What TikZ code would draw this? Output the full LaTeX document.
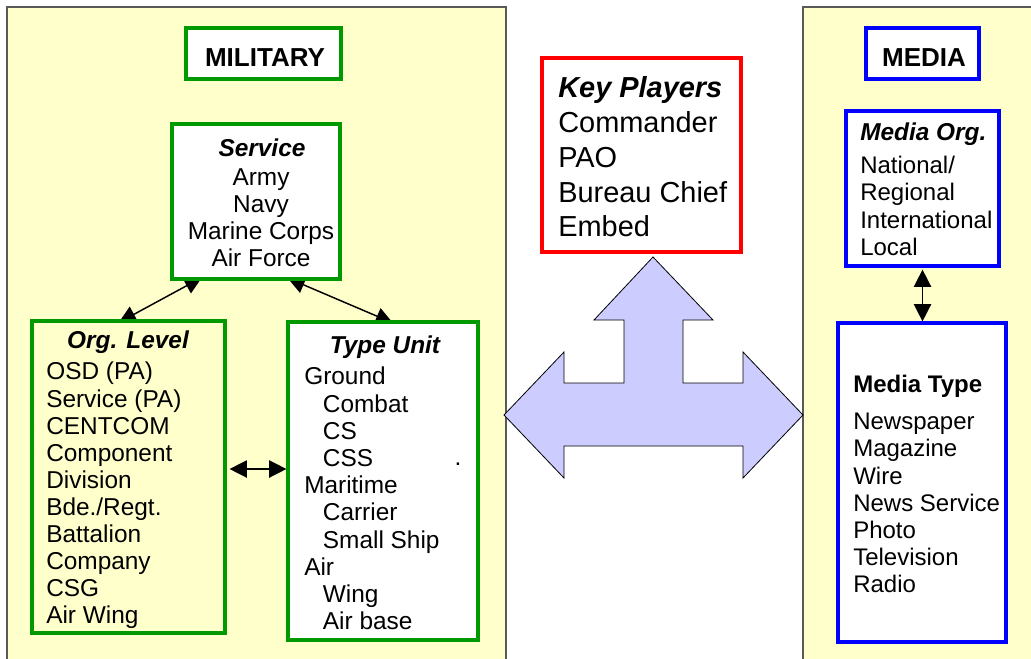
\documentclass[tikz,border=0pt]{standalone}
\usepackage{fontspec}
\setmainfont{Liberation Sans}
\usetikzlibrary{arrows.meta,fit,calc,backgrounds}

\definecolor{panelyellow}{HTML}{FFFFCC}
\definecolor{milgreen}{HTML}{009900}
\definecolor{medblue}{HTML}{0000FF}
\definecolor{keyred}{HTML}{FF0000}
\definecolor{arrowlilac}{HTML}{CCCCFF}

\tikzset{
  panel/.style={draw=black!65, line width=0.9pt, fill=panelyellow},
  milbox/.style={draw=milgreen, line width=2.4pt, inner sep=0pt},
  medbox/.style={draw=medblue, line width=2.4pt, inner sep=0pt},
  keybox/.style={draw=keyred, line width=2.4pt, inner sep=0pt},
  boxtext/.style={inner sep=0pt, align=left, font=\fontsize{18.3}{20.3}\selectfont},
  boxtitle/.style={inner sep=0pt, anchor=base, font=\fontsize{18.3}{20.3}\selectfont\bfseries\itshape},
  headtext/.style={inner sep=0pt, anchor=base, font=\fontsize{19.5}{22}\selectfont\bfseries},
  link/.style={{Triangle[length=13pt,width=13pt]}-{Triangle[length=13pt,width=13pt]}, line width=1.1pt},
  tucked/.style={shorten <=-5pt, shorten >=-5pt},
}

\begin{document}
\begin{tikzpicture}[x=0.75pt,y=-0.75pt]

    \useasboundingbox (0,0) rectangle (1031,658);
    \clip (0,0) rectangle (1031,658);

    % Military side
    \node[milbox, fill=white, fit={(186,28) (341,79)}] (milhead) {};
    \node[headtext] at (265,66) {MILITARY};

    \node[milbox, fill=white, fit={(172,124) (340,279)}] (serv) {};
    \node[boxtitle] at (262,156) {Service};
    \node[boxtext, align=center, anchor=north] at (261,168)
        {Army\\Navy\\Marine Corps\\Air Force};

    \node[milbox, fill=panelyellow, fit={(32,321) (225,633)}] (orglvl) {};
    \node[boxtitle] at (128,348) {Org. Level};
    \node[boxtext, anchor=north west] at (46,362)
        {OSD (PA)\\Service (PA)\\CENTCOM\\Component\\Division\\Bde./Regt.\\Battalion\\Company\\CSG\\Air Wing};

    \node[milbox, fill=white, fit={(288,322) (478,640)}] (typeunit) {};
    \node[boxtitle] at (385,353) {Type Unit};
    \node[boxtext, anchor=north west, font=\fontsize{18.3}{20.4}\selectfont] at (304,367)
        {Ground\\\hspace*{14pt}Combat\\\hspace*{14pt}CS\\\hspace*{14pt}CSS\\Maritime\\\hspace*{14pt}Carrier\\\hspace*{14pt}Small Ship\\Air\\\hspace*{14pt}Wing\\\hspace*{14pt}Air base};
    \node[boxtext, anchor=base] (tudot) at (458,465) {.};

    % Key players
    \node[keybox, fill=white, fit={(542,58) (741,252)}] (keyplay) {};
    \node[boxtext, anchor=north west, font=\fontsize{21.7}{26.2}\selectfont] at (558,76)
        {\textbf{\textit{Key Players}}\\Commander\\PAO\\Bureau Chief\\Embed};

    % Three way arrow
    \filldraw[fill=arrowlilac, draw=black, line width=0.6pt]
        (653,257) -- (713,320) -- (683,320) -- (683,383) -- (743,383) -- (743,352)
        -- (803,415) -- (743,478) -- (743,446) -- (564,446) -- (564,478) -- (504,415)
        -- (564,352) -- (564,383) -- (624,383) -- (624,320) -- (594,320) -- cycle;

    % Media side
    \node[medbox, fill=white, fit={(866,28) (979,79)}] (medhead) {};
    \node[headtext] at (924,66) {MEDIA};

    \node[medbox, fill=white, fit={(846,111) (999,266)}] (medorg) {};
    \node[boxtitle, anchor=base west] at (860,140) {Media Org.};
    \node[boxtext, anchor=north west, font=\fontsize{18}{20.5}\selectfont] at (860,156)
        {National/\\Regional\\International\\Local};

    \node[medbox, fill=white, fit={(838,323) (1006,642)}] (medtype) {};
    \node[headtext, anchor=base west, font=\fontsize{18}{20.5}\selectfont\bfseries] at (853,392) {Media Type};
    \node[boxtext, anchor=north west, font=\fontsize{18}{20.4}\selectfont] at (853,413)
        {Newspaper\\Magazine\\Wire\\News Service\\Photo\\Television\\Radio};

    \begin{pgfonlayer}{background}
    % Panels
    \draw[panel] (7,7) rectangle (506,680);
    \draw[panel] (803,7) rectangle (1050,680);

    % Links (tips tucked under the boxes)
    \coordinate (servl) at ($(serv.south west)!0.15!(serv.south east)$);
    \coordinate (servr) at ($(serv.south west)!0.72!(serv.south east)$);
    \coordinate (orgtop) at ($(orglvl.north west)!0.48!(orglvl.north east)$);
    \coordinate (typetop) at ($(typeunit.north west)!0.52!(typeunit.north east)$);
    \draw[link, tucked] (servl) -- (orgtop);
    \draw[link, tucked] (servr) -- (typetop);
    \end{pgfonlayer}

    \coordinate (orgside) at ($(orglvl.east)+(3,-8)$);
    \draw[link] (orgside) -- (orgside -| typeunit.west);

    \coordinate (medlink) at ($(medorg.south)+(0,2)$);
    \draw[link] (medlink) -- (medlink |- medtype.north);

\end{tikzpicture}
\end{document}
